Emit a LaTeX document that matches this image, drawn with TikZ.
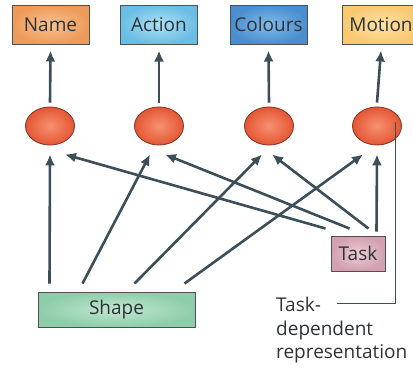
\documentclass[tikz,border=0pt]{standalone}
\usepackage{fontspec}
\setmainfont{Open Sans}
\usepackage{tikz}
\usetikzlibrary{arrows.meta,shapes.geometric}
\usepackage{xcolor}

\definecolor{linkgrey}{HTML}{3C4E58}
\definecolor{textgrey}{HTML}{2E3338}
\definecolor{edgegrey}{HTML}{505050}
\definecolor{namein}{HTML}{F8C292}
\definecolor{nameout}{HTML}{EE9A58}
\definecolor{actionin}{HTML}{AEE0F4}
\definecolor{actionout}{HTML}{6ABEE5}
\definecolor{coloursin}{HTML}{80BCEA}
\definecolor{coloursout}{HTML}{4A8ED0}
\definecolor{motionin}{HTML}{FEE2A8}
\definecolor{motionout}{HTML}{F9C870}
\definecolor{shapein}{HTML}{C2E7D2}
\definecolor{shapeout}{HTML}{8ECDA9}
\definecolor{taskin}{HTML}{ECCCD5}
\definecolor{taskout}{HTML}{D2A0B0}
\definecolor{unitin}{HTML}{F69272}
\definecolor{unitout}{HTML}{E45634}
\definecolor{unitline}{HTML}{8A3A28}

\begin{document}
\begin{tikzpicture}[x=1pt,y=-1pt,>={Latex[length=11pt,width=10pt]},
    every node/.style={font=\fontsize{19}{23.5}\selectfont,text=textgrey},
    box/.style={rectangle,draw=edgegrey,line width=1pt,minimum width=77pt,minimum height=39pt,inner sep=0pt},
    unit/.style={ellipse,draw=unitline,line width=0.9pt,minimum width=49pt,minimum height=38pt,inner sep=0pt,inner color=unitin,outer color=unitout},
    link/.style={->,draw=linkgrey,line width=2.6pt}]
    \useasboundingbox (0,0) rectangle (413,368);

    \node[box,inner color=namein,outer color=nameout] (name) at (50.5,24.5) {Name};
    \node[box,inner color=actionin,outer color=actionout] (action) at (159,24.5) {Action};
    \node[box,inner color=coloursin,outer color=coloursout] (colours) at (268.5,24.5) {Colours};
    \node[box,inner color=motionin,outer color=motionout] (motion) at (381,24.5) {Motion};
    \node[unit] (uname) at (50,126) {};
    \node[unit] (uaction) at (159,126) {};
    \node[unit] (ucolours) at (269,126) {};
    \node[unit] (umotion) at (377,126) {};
    \node[box,minimum width=157pt,minimum height=35pt,inner color=shapein,outer color=shapeout] (shape) at (116.5,309.5) {Shape};
    \node[box,minimum width=54pt,minimum height=35pt,inner color=taskin,outer color=taskout] (task) at (358,253.5) {Task};
    \node[anchor=north west,align=left,inner sep=0pt] (tdr) at (276,297) {Task-\\dependent\\representation};
    \coordinate (tdrend) at (337,303);

    \tikzset{every node/.style={}}
    % units to outputs
    \draw[link] ([yshift=4pt]uname.north) -- ([yshift=-6pt]name.south);
    \draw[link] ([yshift=4pt]uaction.north) -- ([yshift=-6pt]action.south);
    \draw[link] ([yshift=4pt]ucolours.north) -- ([yshift=-6pt]colours.south);
    \draw[link] ([yshift=4pt]umotion.north) -- ([yshift=-6pt]motion.south);

    % shape input
    \draw[link] ([xshift=12pt,yshift=8pt]shape.north west) -- ([xshift=0pt,yshift=-9pt]uname.south);
    \draw[link] ([xshift=45pt,yshift=8pt]shape.north west) -- ([xshift=-9pt,yshift=-9pt]uaction.south);
    \draw[link] ([xshift=97pt,yshift=8pt]shape.north west) -- ([xshift=-7pt,yshift=-9pt]ucolours.south);
    \draw[link] ([xshift=147pt,yshift=8pt]shape.north west) -- ([xshift=-14pt,yshift=-9pt]umotion.south);

    % task input
    \draw[link] ([xshift=-5pt,yshift=7pt]task.north west) -- ([xshift=15pt,yshift=-9pt]uname.south);
    \draw[link] ([xshift=19pt,yshift=7pt]task.north west) -- ([xshift=6pt,yshift=-9pt]uaction.south);
    \draw[link] ([xshift=38pt,yshift=7pt]task.north west) -- ([xshift=3pt,yshift=-9pt]ucolours.south);
    \draw[link] ([xshift=46pt,yshift=4pt]task.north west) -- ([xshift=0pt,yshift=-9pt]umotion.south);

    \draw[linkgrey,line width=0.9pt] (tdrend) -| ([xshift=18pt,yshift=4pt]umotion.center);
\end{tikzpicture}
\end{document}
